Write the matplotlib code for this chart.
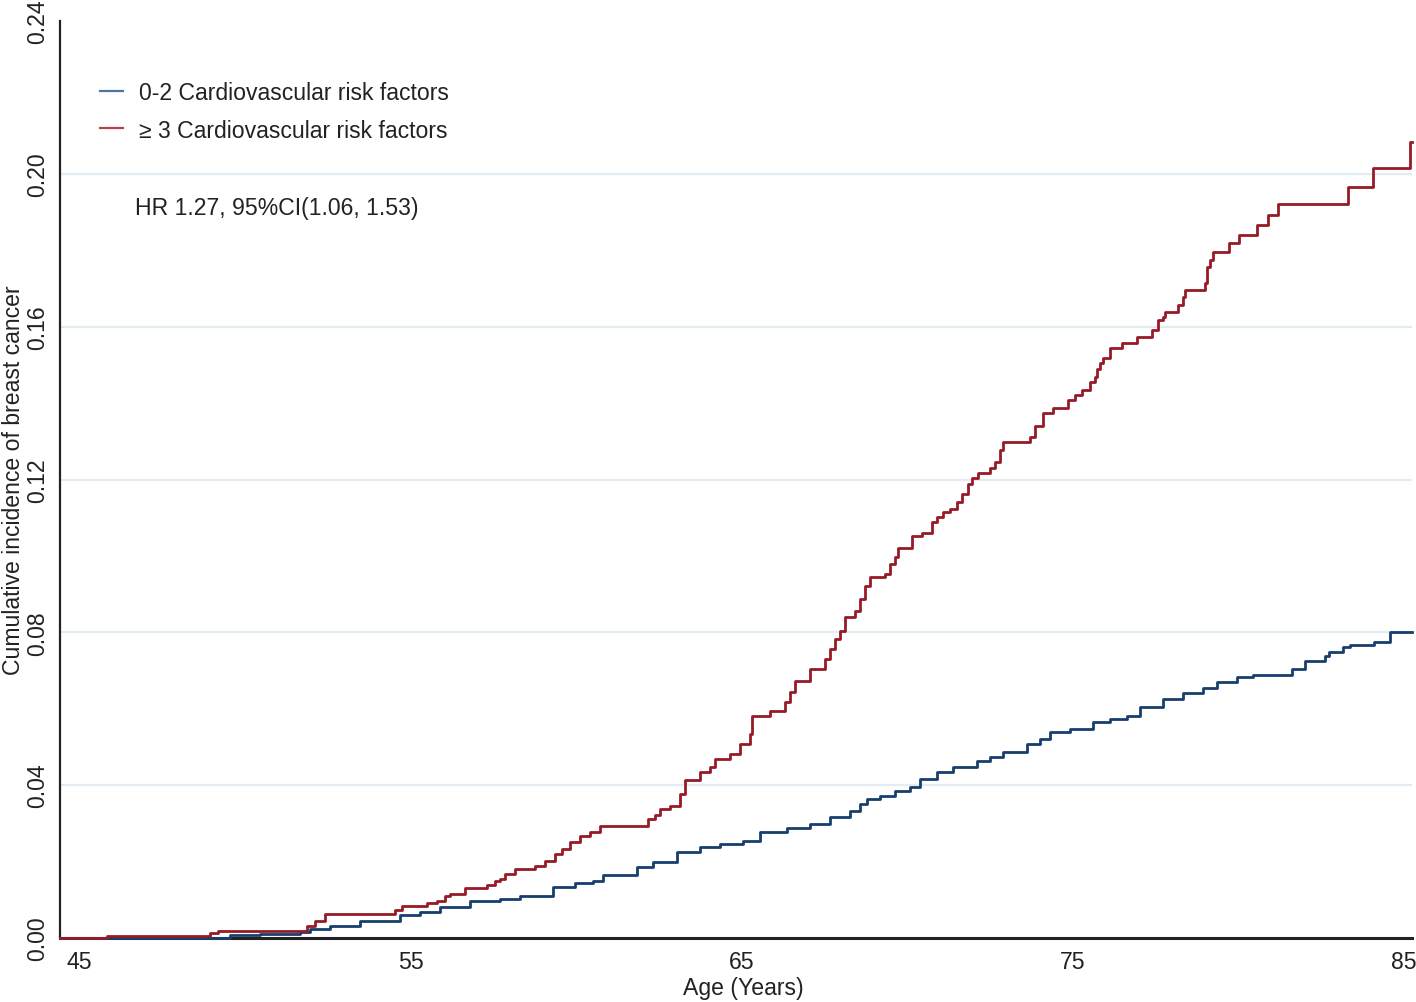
import matplotlib
matplotlib.use("Agg")
import matplotlib.pyplot as plt
from matplotlib.lines import Line2D

# ---- data ----
age_low = [44.41, 47.13, 49.55, 50.45, 51.66, 51.97, 52.57, 53.48, 54.68, 55.29,
           55.89, 56.80, 57.70, 58.31, 59.30, 59.97, 60.51, 60.81, 61.84, 62.32,
           63.05, 63.74, 64.35, 65.04, 65.56, 66.37, 67.07, 67.67, 68.27, 68.58,
           68.79, 69.18, 69.63, 70.09, 70.39, 70.90, 71.38, 72.11, 72.50, 72.89,
           73.62, 74.01, 74.31, 74.92, 75.61, 76.13, 76.64, 77.03, 77.73, 78.33,
           78.94, 79.36, 79.96, 80.45, 81.62, 82.02, 82.62, 82.74, 83.16, 83.38,
           84.10, 84.58, 85.25]
inc_low = [0.0, 0.0001, 0.0008, 0.0010, 0.0016, 0.0024, 0.0031, 0.0044, 0.0060, 0.0068,
           0.0081, 0.0097, 0.0102, 0.0110, 0.0133, 0.0144, 0.0149, 0.0165, 0.0186, 0.0199,
           0.0225, 0.0238, 0.0246, 0.0254, 0.0277, 0.0288, 0.0298, 0.0316, 0.0332, 0.0350,
           0.0363, 0.0371, 0.0384, 0.0395, 0.0416, 0.0434, 0.0447, 0.0463, 0.0473, 0.0486,
           0.0507, 0.0520, 0.0539, 0.0546, 0.0565, 0.0573, 0.0580, 0.0604, 0.0625, 0.0641,
           0.0654, 0.0669, 0.0682, 0.0688, 0.0703, 0.0724, 0.0737, 0.0748, 0.0761, 0.0766,
           0.0774, 0.0800, 0.0800]

age_high = [44.41, 45.83, 48.94, 49.19, 51.87, 52.12, 52.42, 54.53, 54.74, 55.50,
            55.80, 56.04, 56.19, 56.65, 57.31, 57.55, 57.70, 57.85, 58.16, 58.76,
            59.06, 59.36, 59.58, 59.82, 60.12, 60.42, 60.72, 62.17, 62.38, 62.54,
            62.84, 63.14, 63.29, 63.74, 64.05, 64.20, 64.65, 64.95, 65.25, 65.31,
            65.86, 66.31, 66.46, 66.61, 67.07, 67.52, 67.67, 67.82, 67.97, 68.12,
            68.42, 68.58, 68.73, 68.88, 69.33, 69.48, 69.63, 69.72, 70.15, 70.45,
            70.75, 70.90, 71.08, 71.29, 71.51, 71.66, 71.84, 71.96, 72.14, 72.50,
            72.65, 72.80, 72.89, 73.71, 73.86, 74.10, 74.40, 74.86, 75.07, 75.28,
            75.52, 75.67, 75.73, 75.82, 75.91, 76.13, 76.49, 76.94, 77.39, 77.58,
            77.73, 77.79, 78.18, 78.33, 78.39, 79.00, 79.06, 79.15, 79.24, 79.72,
            80.02, 80.57, 80.90, 81.20, 83.31, 84.07, 85.19, 85.25]
inc_high = [0.0, 0.0005, 0.0013, 0.0018, 0.0031, 0.0044, 0.0063, 0.0073, 0.0084, 0.0092,
            0.0097, 0.0110, 0.0115, 0.0131, 0.0139, 0.0149, 0.0154, 0.0167, 0.0180, 0.0188,
            0.0201, 0.0220, 0.0233, 0.0251, 0.0267, 0.0277, 0.0293, 0.0311, 0.0322, 0.0337,
            0.0345, 0.0376, 0.0413, 0.0434, 0.0447, 0.0468, 0.0481, 0.0507, 0.0533, 0.0580,
            0.0593, 0.0617, 0.0643, 0.0672, 0.0703, 0.0729, 0.0756, 0.0782, 0.0803, 0.0839,
            0.0855, 0.0886, 0.0920, 0.0944, 0.0952, 0.0978, 0.0996, 0.1022, 0.1051, 0.1061,
            0.1088, 0.1103, 0.1114, 0.1122, 0.1140, 0.1161, 0.1188, 0.1205, 0.1218, 0.1231,
            0.1247, 0.1278, 0.1297, 0.1312, 0.1339, 0.1375, 0.1388, 0.1409, 0.1422, 0.1435,
            0.1454, 0.1467, 0.1488, 0.1506, 0.1519, 0.1545, 0.1558, 0.1574, 0.1592, 0.1618,
            0.1624, 0.1639, 0.1658, 0.1678, 0.1697, 0.1715, 0.1757, 0.1775, 0.1796, 0.1820,
            0.1841, 0.1867, 0.1893, 0.1922, 0.1966, 0.2016, 0.2084, 0.2084]

x_ticks = [45, 55, 65, 75, 85]
y_ticks = [0.00, 0.04, 0.08, 0.12, 0.16, 0.20, 0.24]
y_grid = [0.04, 0.08, 0.12, 0.16, 0.20]
series_labels = ["0-2 Cardiovascular risk factors", "\u2265 3 Cardiovascular risk factors"]
hr_text = "HR 1.27, 95%CI(1.06, 1.53)"

# ---- styling ----
plt.rcParams['font.family'] = ['Liberation Sans', 'DejaVu Sans']
FS = 16.6
blue = "#173f6e"
red = "#961b27"
blue_leg = "#4c77a5"
red_leg = "#b24650"
txt = "#222222"

fig = plt.figure(figsize=(14.16, 10.03), dpi=100)
ax = fig.add_axes([60/1416, 64/1003, 1352/1416, 917/1003])

for g in y_grid:
    ax.axhline(g, color="#e3ecf0", lw=1.6, zorder=0)

ax.step(age_low, inc_low, where='post', color=blue, lw=2.0, zorder=3, clip_on=False)
ax.step(age_high, inc_high, where='post', color=red, lw=2.0, zorder=3, clip_on=False)

ax.set_xlim(44.41, 85.25)
ax.set_ylim(0, 0.24)
ax.set_xticks(x_ticks)
ax.set_xticklabels([str(t) for t in x_ticks])
ax.set_yticks(y_ticks)
ax.set_yticklabels([f"{t:.2f}" for t in y_ticks])
ax.tick_params(axis='both', length=0, labelsize=FS, colors=txt)
ax.tick_params(axis='x', pad=9)
ax.tick_params(axis='y', pad=8)
for lab in ax.get_yticklabels():
    lab.set_rotation(90)
    lab.set_va('center')
    lab.set_ha('right')

for s in ['top', 'right']:
    ax.spines[s].set_visible(False)
ax.spines['left'].set_linewidth(1.6)
ax.spines['bottom'].set_linewidth(2.2)
ax.spines['left'].set_color(txt)
ax.spines['bottom'].set_color(txt)
ax.spines['left'].set_zorder(2)
ax.spines['bottom'].set_zorder(2)

ax.set_xlabel("Age (Years)", fontsize=FS, color=txt)
ax.set_ylabel("Cumulative incidence of breast cancer", fontsize=FS, color=txt)
ax.xaxis.set_label_coords((743-60)/1352, (939-977)/917)
ax.yaxis.set_label_coords((25-60)/1352, 0.5)

handles = [Line2D([0], [0], color=blue_leg, lw=1.6),
           Line2D([0], [0], color=red_leg, lw=1.6)]
leg = ax.legend(handles, series_labels, loc='upper left',
                bbox_to_anchor=((100-60)/1352, (939-82)/917),
                frameon=False, fontsize=FS, handlelength=1.0, handletextpad=0.68,
                labelspacing=0.63, borderpad=0, borderaxespad=0)
for t in leg.get_texts():
    t.set_color(txt)

ax.text((135-60)/1352, (939-208)/917, hr_text, transform=ax.transAxes,
        fontsize=FS, color=txt, ha='left', va='center')

fig.savefig("out.png", dpi=100)
